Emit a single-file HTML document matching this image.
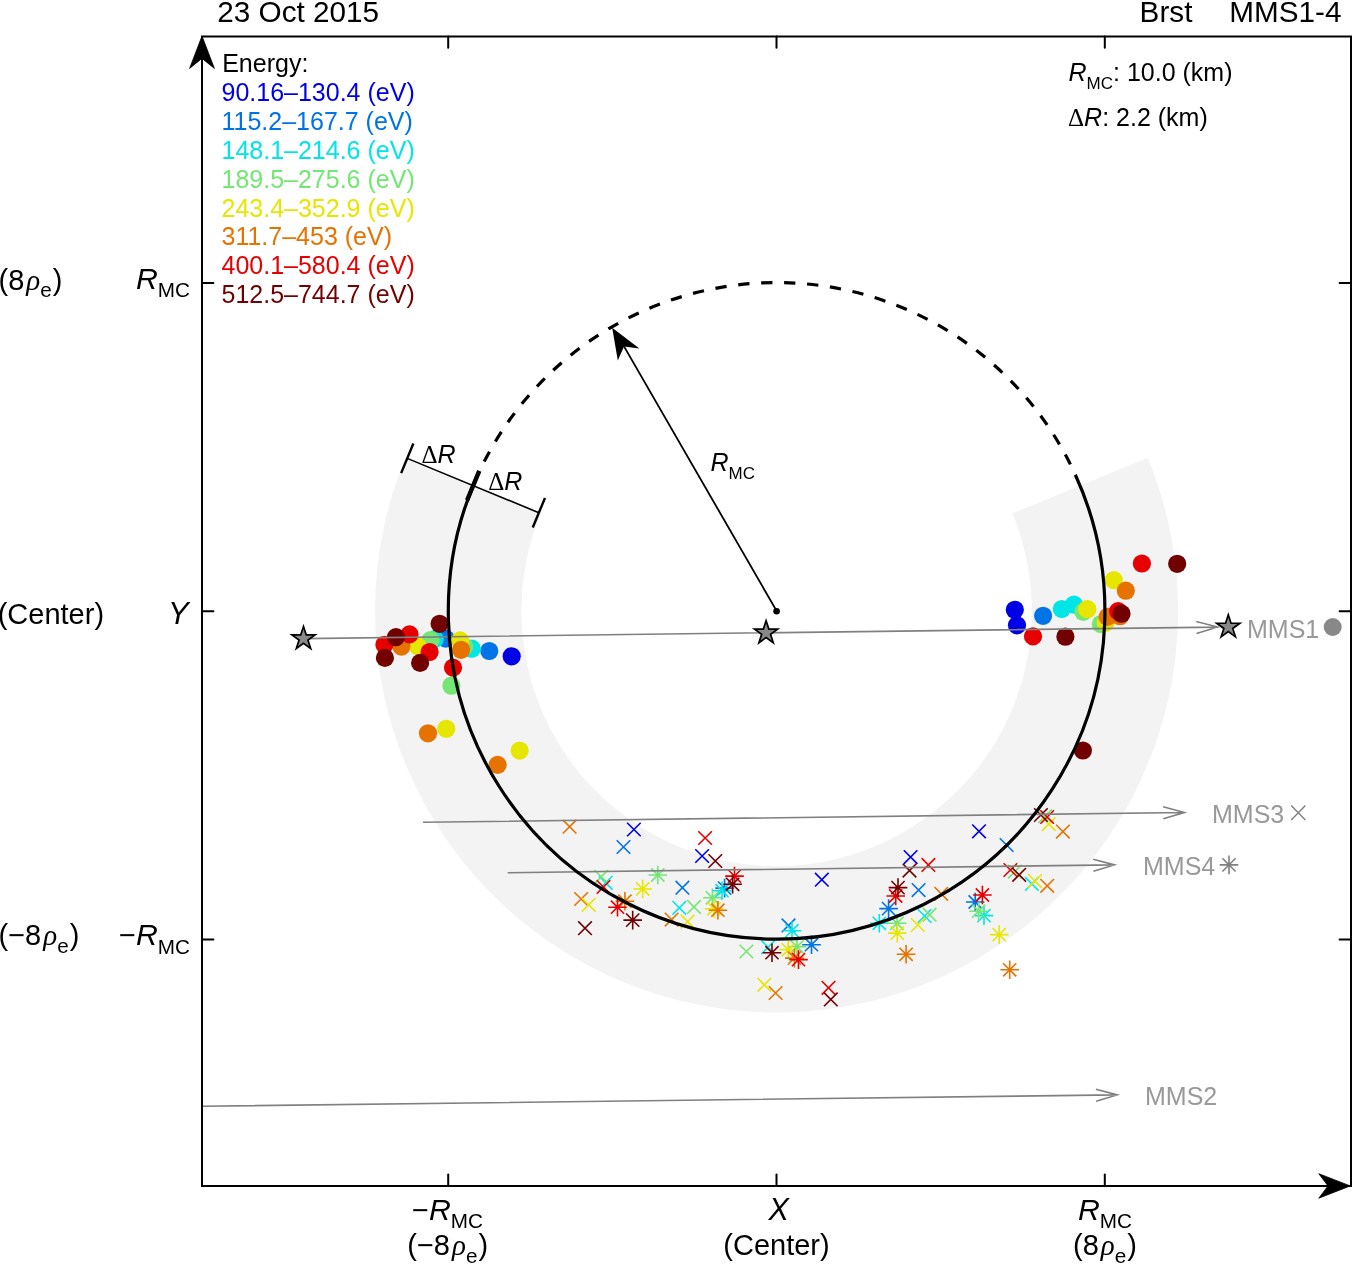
<!DOCTYPE html>
<html><head><meta charset="utf-8"><style>
html,body{margin:0;padding:0;background:#fff;}
svg{display:block;will-change:transform;}
text{font-family:"Liberation Sans",sans-serif;}
</style></head><body>
<svg width="1352" height="1264" viewBox="0 0 1352 1264">
<rect width="1352" height="1264" fill="#fff"/>
<path d="M1147.70,457.64 A401.5,401.5 0 1 1 405.50,457.64 L540.72,513.49 A255.2,255.2 0 1 0 1012.48,513.49 Z" fill="#f3f3f3"/>
<circle cx="511.7" cy="656.3" r="9.1" fill="#0000e6"/>
<circle cx="1014.8" cy="609.8" r="9.1" fill="#0000e6"/>
<circle cx="1017.0" cy="625.3" r="9.1" fill="#0000e6"/>
<path d="M627.1,822.7 L640.7,836.3 M627.1,836.3 L640.7,822.7" stroke="#0000e6" stroke-width="1.6" fill="none"/>
<path d="M695.3,849.2 L708.9,862.8 M695.3,862.8 L708.9,849.2" stroke="#0000e6" stroke-width="1.6" fill="none"/>
<path d="M815.0,872.9 L828.6,886.5 M815.0,886.5 L828.6,872.9" stroke="#0000e6" stroke-width="1.6" fill="none"/>
<path d="M903.8,850.3 L917.4,863.9 M903.8,863.9 L917.4,850.3" stroke="#0000e6" stroke-width="1.6" fill="none"/>
<path d="M972.2,824.5 L985.8,838.1 M972.2,838.1 L985.8,824.5" stroke="#0000e6" stroke-width="1.6" fill="none"/>
<circle cx="445.7" cy="638.6" r="9.1" fill="#0073e6"/>
<circle cx="489.3" cy="651.0" r="9.1" fill="#0073e6"/>
<circle cx="1043.1" cy="615.8" r="9.1" fill="#0073e6"/>
<path d="M616.7,840.2 L630.3,853.8 M616.7,853.8 L630.3,840.2" stroke="#0073e6" stroke-width="1.6" fill="none"/>
<path d="M675.6,880.9 L689.2,894.5 M675.6,894.5 L689.2,880.9" stroke="#0073e6" stroke-width="1.6" fill="none"/>
<path d="M781.7,918.6 L795.3,932.2 M781.7,932.2 L795.3,918.6" stroke="#0073e6" stroke-width="1.6" fill="none"/>
<path d="M911.8,883.3 L925.4,896.9 M911.8,896.9 L925.4,883.3" stroke="#0073e6" stroke-width="1.6" fill="none"/>
<path d="M999.8,838.2 L1013.4,851.8 M999.8,851.8 L1013.4,838.2" stroke="#0073e6" stroke-width="1.6" fill="none"/>
<path d="M715.3,888.1 L733.9,888.1 M724.6,878.8 L724.6,897.4 M718.0,881.5 L731.2,894.7 M718.0,894.7 L731.2,881.5" stroke="#0073e6" stroke-width="1.6" fill="none"/>
<path d="M802.2,944.7 L820.8,944.7 M811.5,935.4 L811.5,954.0 M804.9,938.1 L818.1,951.3 M804.9,951.3 L818.1,938.1" stroke="#0073e6" stroke-width="1.6" fill="none"/>
<path d="M879.3,908.6 L897.9,908.6 M888.6,899.3 L888.6,917.9 M882.0,902.0 L895.2,915.2 M882.0,915.2 L895.2,902.0" stroke="#0073e6" stroke-width="1.6" fill="none"/>
<path d="M965.9,902.0 L984.5,902.0 M975.2,892.7 L975.2,911.3 M968.6,895.4 L981.8,908.6 M968.6,908.6 L981.8,895.4" stroke="#0073e6" stroke-width="1.6" fill="none"/>
<circle cx="434.8" cy="639.1" r="9.1" fill="#00e6e6"/>
<circle cx="471.8" cy="648.7" r="9.1" fill="#00e6e6"/>
<circle cx="1061.8" cy="609.0" r="9.1" fill="#00e6e6"/>
<circle cx="1073.9" cy="604.6" r="9.1" fill="#00e6e6"/>
<path d="M598.9,876.0 L612.5,889.6 M598.9,889.6 L612.5,876.0" stroke="#00e6e6" stroke-width="1.6" fill="none"/>
<path d="M672.5,901.0 L686.1,914.6 M672.5,914.6 L686.1,901.0" stroke="#00e6e6" stroke-width="1.6" fill="none"/>
<path d="M761.3,940.4 L774.9,954.0 M761.3,954.0 L774.9,940.4" stroke="#00e6e6" stroke-width="1.6" fill="none"/>
<path d="M917.8,909.2 L931.4,922.8 M917.8,922.8 L931.4,909.2" stroke="#00e6e6" stroke-width="1.6" fill="none"/>
<path d="M1025.1,877.1 L1038.7,890.7 M1025.1,890.7 L1038.7,877.1" stroke="#00e6e6" stroke-width="1.6" fill="none"/>
<path d="M782.7,930.7 L801.3,930.7 M792.0,921.4 L792.0,940.0 M785.4,924.1 L798.6,937.3 M785.4,937.3 L798.6,924.1" stroke="#00e6e6" stroke-width="1.6" fill="none"/>
<path d="M870.0,923.3 L888.6,923.3 M879.3,914.0 L879.3,932.6 M872.7,916.7 L885.9,929.9 M872.7,929.9 L885.9,916.7" stroke="#00e6e6" stroke-width="1.6" fill="none"/>
<path d="M974.7,915.6 L993.3,915.6 M984.0,906.3 L984.0,924.9 M977.4,909.0 L990.6,922.2 M977.4,922.2 L990.6,909.0" stroke="#00e6e6" stroke-width="1.6" fill="none"/>
<circle cx="430.6" cy="640.0" r="9.1" fill="#73e673"/>
<circle cx="464.3" cy="646.8" r="9.1" fill="#73e673"/>
<circle cx="451.4" cy="685.7" r="9.1" fill="#73e673"/>
<circle cx="1083.3" cy="611.9" r="9.1" fill="#73e673"/>
<circle cx="1100.8" cy="624.0" r="9.1" fill="#73e673"/>
<path d="M594.4,870.0 L608.0,883.6 M594.4,883.6 L608.0,870.0" stroke="#73e673" stroke-width="1.6" fill="none"/>
<path d="M687.2,900.1 L700.8,913.7 M687.2,913.7 L700.8,900.1" stroke="#73e673" stroke-width="1.6" fill="none"/>
<path d="M739.6,944.7 L753.2,958.3 M739.6,958.3 L753.2,944.7" stroke="#73e673" stroke-width="1.6" fill="none"/>
<path d="M922.8,907.9 L936.4,921.5 M922.8,921.5 L936.4,907.9" stroke="#73e673" stroke-width="1.6" fill="none"/>
<path d="M1038.4,809.4 L1052.0,823.0 M1038.4,823.0 L1052.0,809.4" stroke="#73e673" stroke-width="1.6" fill="none"/>
<path d="M1008.0,864.8 L1021.6,878.4 M1008.0,878.4 L1021.6,864.8" stroke="#73e673" stroke-width="1.6" fill="none"/>
<path d="M648.5,875.0 L667.1,875.0 M657.8,865.7 L657.8,884.3 M651.2,868.4 L664.4,881.6 M651.2,881.6 L664.4,868.4" stroke="#73e673" stroke-width="1.6" fill="none"/>
<path d="M703.1,897.8 L721.7,897.8 M712.4,888.5 L712.4,907.1 M705.8,891.2 L719.0,904.4 M705.8,904.4 L719.0,891.2" stroke="#73e673" stroke-width="1.6" fill="none"/>
<path d="M787.7,946.8 L806.3,946.8 M797.0,937.5 L797.0,956.1 M790.4,940.2 L803.6,953.4 M790.4,953.4 L803.6,940.2" stroke="#73e673" stroke-width="1.6" fill="none"/>
<path d="M887.7,923.3 L906.3,923.3 M897.0,914.0 L897.0,932.6 M890.4,916.7 L903.6,929.9 M890.4,929.9 L903.6,916.7" stroke="#73e673" stroke-width="1.6" fill="none"/>
<path d="M969.3,911.2 L987.9,911.2 M978.6,901.9 L978.6,920.5 M972.0,904.6 L985.2,917.8 M972.0,917.8 L985.2,904.6" stroke="#73e673" stroke-width="1.6" fill="none"/>
<path d="M712.7,890.7 L731.3,890.7 M722.0,881.4 L722.0,900.0 M715.4,884.1 L728.6,897.3 M715.4,897.3 L728.6,884.1" stroke="#00e6e6" stroke-width="1.6" fill="none"/>
<circle cx="418.1" cy="646.6" r="9.1" fill="#e6e600"/>
<circle cx="460.1" cy="640.4" r="9.1" fill="#e6e600"/>
<circle cx="446.3" cy="728.8" r="9.1" fill="#e6e600"/>
<circle cx="519.6" cy="750.6" r="9.1" fill="#e6e600"/>
<circle cx="1087.3" cy="609.2" r="9.1" fill="#e6e600"/>
<circle cx="1105.6" cy="622.9" r="9.1" fill="#e6e600"/>
<circle cx="1113.8" cy="580.1" r="9.1" fill="#e6e600"/>
<path d="M680.8,914.8 L694.4,928.4 M680.8,928.4 L694.4,914.8" stroke="#e6e600" stroke-width="1.6" fill="none"/>
<path d="M757.5,978.0 L771.1,991.6 M757.5,991.6 L771.1,978.0" stroke="#e6e600" stroke-width="1.6" fill="none"/>
<path d="M911.0,918.2 L924.6,931.8 M911.0,931.8 L924.6,918.2" stroke="#e6e600" stroke-width="1.6" fill="none"/>
<path d="M1042.0,817.3 L1055.6,830.9 M1042.0,830.9 L1055.6,817.3" stroke="#e6e600" stroke-width="1.6" fill="none"/>
<path d="M1028.2,874.3 L1041.8,887.9 M1028.2,887.9 L1041.8,874.3" stroke="#e6e600" stroke-width="1.6" fill="none"/>
<path d="M633.4,889.0 L652.0,889.0 M642.7,879.7 L642.7,898.3 M636.1,882.4 L649.3,895.6 M636.1,895.6 L649.3,882.4" stroke="#e6e600" stroke-width="1.6" fill="none"/>
<path d="M704.7,908.8 L723.3,908.8 M714.0,899.5 L714.0,918.1 M707.4,902.2 L720.6,915.4 M707.4,915.4 L720.6,902.2" stroke="#e6e600" stroke-width="1.6" fill="none"/>
<path d="M779.0,949.8 L797.6,949.8 M788.3,940.5 L788.3,959.1 M781.7,943.2 L794.9,956.4 M781.7,956.4 L794.9,943.2" stroke="#e6e600" stroke-width="1.6" fill="none"/>
<path d="M888.0,933.1 L906.6,933.1 M897.3,923.8 L897.3,942.4 M890.7,926.5 L903.9,939.7 M890.7,939.7 L903.9,926.5" stroke="#e6e600" stroke-width="1.6" fill="none"/>
<path d="M989.9,934.6 L1008.5,934.6 M999.2,925.3 L999.2,943.9 M992.6,928.0 L1005.8,941.2 M992.6,941.2 L1005.8,928.0" stroke="#e6e600" stroke-width="1.6" fill="none"/>
<circle cx="401.4" cy="646.6" r="9.1" fill="#e67300"/>
<circle cx="461.1" cy="649.8" r="9.1" fill="#e67300"/>
<circle cx="428.0" cy="733.3" r="9.1" fill="#e67300"/>
<circle cx="497.6" cy="764.9" r="9.1" fill="#e67300"/>
<circle cx="1107.5" cy="616.9" r="9.1" fill="#e67300"/>
<circle cx="1120.0" cy="616.2" r="9.1" fill="#e67300"/>
<circle cx="1125.8" cy="590.7" r="9.1" fill="#e67300"/>
<path d="M562.8,819.9 L576.4,833.5 M562.8,833.5 L576.4,819.9" stroke="#e67300" stroke-width="1.6" fill="none"/>
<path d="M574.3,892.2 L587.9,905.8 M574.3,905.8 L587.9,892.2" stroke="#e67300" stroke-width="1.6" fill="none"/>
<path d="M664.8,912.8 L678.4,926.4 M664.8,926.4 L678.4,912.8" stroke="#e67300" stroke-width="1.6" fill="none"/>
<path d="M768.8,986.2 L782.4,999.8 M768.8,999.8 L782.4,986.2" stroke="#e67300" stroke-width="1.6" fill="none"/>
<path d="M934.4,887.0 L948.0,900.6 M934.4,900.6 L948.0,887.0" stroke="#e67300" stroke-width="1.6" fill="none"/>
<path d="M1056.1,824.8 L1069.7,838.4 M1056.1,838.4 L1069.7,824.8" stroke="#e67300" stroke-width="1.6" fill="none"/>
<path d="M1040.4,879.0 L1054.0,892.6 M1040.4,892.6 L1054.0,879.0" stroke="#e67300" stroke-width="1.6" fill="none"/>
<path d="M615.6,901.2 L634.2,901.2 M624.9,891.9 L624.9,910.5 M618.3,894.6 L631.5,907.8 M618.3,907.8 L631.5,894.6" stroke="#e67300" stroke-width="1.6" fill="none"/>
<path d="M708.6,910.2 L727.2,910.2 M717.9,900.9 L717.9,919.5 M711.3,903.6 L724.5,916.8 M711.3,916.8 L724.5,903.6" stroke="#e67300" stroke-width="1.6" fill="none"/>
<path d="M785.1,958.1 L803.7,958.1 M794.4,948.8 L794.4,967.4 M787.8,951.5 L801.0,964.7 M787.8,964.7 L801.0,951.5" stroke="#e67300" stroke-width="1.6" fill="none"/>
<path d="M896.8,954.3 L915.4,954.3 M906.1,945.0 L906.1,963.6 M899.5,947.7 L912.7,960.9 M899.5,960.9 L912.7,947.7" stroke="#e67300" stroke-width="1.6" fill="none"/>
<path d="M1000.4,969.8 L1019.0,969.8 M1009.7,960.5 L1009.7,979.1 M1003.1,963.2 L1016.3,976.4 M1003.1,976.4 L1016.3,963.2" stroke="#e67300" stroke-width="1.6" fill="none"/>
<path d="M581.9,898.0 L595.5,911.6 M581.9,911.6 L595.5,898.0" stroke="#e6e600" stroke-width="1.6" fill="none"/>
<circle cx="384.4" cy="644.8" r="9.1" fill="#e60000"/>
<circle cx="409.5" cy="634.4" r="9.1" fill="#e60000"/>
<circle cx="429.6" cy="652.0" r="9.1" fill="#e60000"/>
<circle cx="453.0" cy="667.6" r="9.1" fill="#e60000"/>
<circle cx="1033.0" cy="636.4" r="9.1" fill="#e60000"/>
<circle cx="1118.1" cy="611.2" r="9.1" fill="#e60000"/>
<circle cx="1141.9" cy="563.5" r="9.1" fill="#e60000"/>
<path d="M596.7,880.2 L610.3,893.8 M596.7,893.8 L610.3,880.2" stroke="#e60000" stroke-width="1.6" fill="none"/>
<path d="M698.3,831.2 L711.9,844.8 M698.3,844.8 L711.9,831.2" stroke="#e60000" stroke-width="1.6" fill="none"/>
<path d="M821.7,981.0 L835.3,994.6 M821.7,994.6 L835.3,981.0" stroke="#e60000" stroke-width="1.6" fill="none"/>
<path d="M921.6,858.1 L935.2,871.7 M921.6,871.7 L935.2,858.1" stroke="#e60000" stroke-width="1.6" fill="none"/>
<path d="M1040.4,810.2 L1054.0,823.8 M1040.4,823.8 L1054.0,810.2" stroke="#e60000" stroke-width="1.6" fill="none"/>
<path d="M1003.6,863.2 L1017.2,876.8 M1003.6,876.8 L1017.2,863.2" stroke="#e60000" stroke-width="1.6" fill="none"/>
<path d="M608.2,907.2 L626.8,907.2 M617.5,897.9 L617.5,916.5 M610.9,900.6 L624.1,913.8 M610.9,913.8 L624.1,900.6" stroke="#e60000" stroke-width="1.6" fill="none"/>
<path d="M725.2,876.1 L743.8,876.1 M734.5,866.8 L734.5,885.4 M727.9,869.5 L741.1,882.7 M727.9,882.7 L741.1,869.5" stroke="#e60000" stroke-width="1.6" fill="none"/>
<path d="M789.2,959.6 L807.8,959.6 M798.5,950.3 L798.5,968.9 M791.9,953.0 L805.1,966.2 M791.9,966.2 L805.1,953.0" stroke="#e60000" stroke-width="1.6" fill="none"/>
<path d="M886.4,896.0 L905.0,896.0 M895.7,886.7 L895.7,905.3 M889.1,889.4 L902.3,902.6 M889.1,902.6 L902.3,889.4" stroke="#e60000" stroke-width="1.6" fill="none"/>
<path d="M973.1,895.0 L991.7,895.0 M982.4,885.7 L982.4,904.3 M975.8,888.4 L989.0,901.6 M975.8,901.6 L989.0,888.4" stroke="#e60000" stroke-width="1.6" fill="none"/>
<circle cx="396.0" cy="637.1" r="9.1" fill="#730000"/>
<circle cx="384.9" cy="657.9" r="9.1" fill="#730000"/>
<circle cx="439.6" cy="623.8" r="9.1" fill="#730000"/>
<circle cx="420.1" cy="662.9" r="9.1" fill="#730000"/>
<circle cx="1065.4" cy="636.7" r="9.1" fill="#730000"/>
<circle cx="1121.5" cy="613.7" r="9.1" fill="#730000"/>
<circle cx="1177.2" cy="563.8" r="9.1" fill="#730000"/>
<circle cx="1082.9" cy="750.5" r="9.1" fill="#730000"/>
<path d="M578.2,921.4 L591.8,935.0 M578.2,935.0 L591.8,921.4" stroke="#730000" stroke-width="1.6" fill="none"/>
<path d="M708.5,854.2 L722.1,867.8 M708.5,867.8 L722.1,854.2" stroke="#730000" stroke-width="1.6" fill="none"/>
<path d="M824.0,992.6 L837.6,1006.2 M824.0,1006.2 L837.6,992.6" stroke="#730000" stroke-width="1.6" fill="none"/>
<path d="M902.7,863.8 L916.3,877.4 M902.7,877.4 L916.3,863.8" stroke="#730000" stroke-width="1.6" fill="none"/>
<path d="M1034.1,808.2 L1047.7,821.8 M1034.1,821.8 L1047.7,808.2" stroke="#730000" stroke-width="1.6" fill="none"/>
<path d="M1012.4,868.0 L1026.0,881.6 M1012.4,881.6 L1026.0,868.0" stroke="#730000" stroke-width="1.6" fill="none"/>
<path d="M623.4,920.1 L642.0,920.1 M632.7,910.8 L632.7,929.4 M626.1,913.5 L639.3,926.7 M626.1,926.7 L639.3,913.5" stroke="#730000" stroke-width="1.6" fill="none"/>
<path d="M723.3,884.3 L741.9,884.3 M732.6,875.0 L732.6,893.6 M726.0,877.7 L739.2,890.9 M726.0,890.9 L739.2,877.7" stroke="#730000" stroke-width="1.6" fill="none"/>
<path d="M762.7,952.7 L781.3,952.7 M772.0,943.4 L772.0,962.0 M765.4,946.1 L778.6,959.3 M765.4,959.3 L778.6,946.1" stroke="#730000" stroke-width="1.6" fill="none"/>
<path d="M888.7,887.6 L907.3,887.6 M898.0,878.3 L898.0,896.9 M891.4,881.0 L904.6,894.2 M891.4,894.2 L904.6,881.0" stroke="#730000" stroke-width="1.6" fill="none"/>
<path d="M303.5,638.6 L1217.6,627.1 M1196.5,633.4 L1217.6,627.1 L1196.3,621.4" fill="none" stroke="#808080" stroke-width="1.6" stroke-linejoin="miter"/>
<path d="M423.1,822.3 L1184.4,812.5 M1163.3,818.8 L1184.4,812.5 L1163.1,806.8" fill="none" stroke="#808080" stroke-width="1.6" stroke-linejoin="miter"/>
<path d="M507.7,872.7 L1114.5,864.9 M1093.4,871.2 L1114.5,864.9 L1093.2,859.2" fill="none" stroke="#808080" stroke-width="1.6" stroke-linejoin="miter"/>
<path d="M202.0,1106.3 L1117.2,1094.9 M1096.1,1101.2 L1117.2,1094.9 L1095.9,1089.2" fill="none" stroke="#808080" stroke-width="1.6" stroke-linejoin="miter"/>
<path d="M1075.34,474.76 A328.3,328.3 0 1 1 479.18,471.89" fill="none" stroke="#000" stroke-width="3.2"/>
<path d="M484.21,461.60 A328.3,328.3 0 0 1 1070.41,464.41" fill="none" stroke="#000" stroke-width="3.2" stroke-dasharray="11.29 11.72"/>
<line x1="407.26" y1="458.37" x2="538.88" y2="512.72" stroke="#000" stroke-width="1.6"/>
<line x1="401.15" y1="473.15" x2="413.37" y2="443.58" stroke="#000" stroke-width="2.4"/>
<line x1="532.77" y1="527.51" x2="544.98" y2="497.93" stroke="#000" stroke-width="2.4"/>
<line x1="467.05" y1="500.37" x2="479.27" y2="470.79" stroke="#000" stroke-width="4.4"/>
<line x1="776.6" y1="610.9" x2="624" y2="346.4" stroke="#000" stroke-width="1.8"/>
<path d="M612.2,327.7 L617.8,360.6 L624,346.4 L639.4,348.6 Z" fill="#000"/>
<circle cx="776.6" cy="611.3" r="3.3" fill="#000"/>
<polygon points="303.50,626.40 306.24,634.83 315.10,634.83 307.93,640.04 310.67,648.47 303.50,643.26 296.33,648.47 299.07,640.04 291.90,634.83 300.76,634.83" fill="#888888" stroke="#000" stroke-width="1.7" stroke-linejoin="miter" stroke-miterlimit="10"/>
<polygon points="766.10,620.70 768.84,629.13 777.70,629.13 770.53,634.34 773.27,642.77 766.10,637.56 758.93,642.77 761.67,634.34 754.50,629.13 763.36,629.13" fill="#888888" stroke="#000" stroke-width="1.7" stroke-linejoin="miter" stroke-miterlimit="10"/>
<polygon points="1228.30,614.80 1231.04,623.23 1239.90,623.23 1232.73,628.44 1235.47,636.87 1228.30,631.66 1221.13,636.87 1223.87,628.44 1216.70,623.23 1225.56,623.23" fill="#888888" stroke="#000" stroke-width="1.7" stroke-linejoin="miter" stroke-miterlimit="10"/>
<circle cx="1332.7" cy="627" r="9" fill="#888888"/>
<path d="M202.0,1185.9 L1351.0,1185.9 M202.0,1185.9 L202.0,36.4 M202.0,36.4 L1351.0,36.4 M1351.0,36.4 L1351.0,1185.9" fill="none" stroke="#000" stroke-width="2" stroke-linecap="square"/>
<path d="M202,36 L189.6,68.4 L202,58.4 L214.4,68.4 Z" fill="#000" stroke="#000" stroke-width="0.8" stroke-linejoin="round"/>
<path d="M1350.3,1185.9 L1318.8,1173.7 L1328,1185.9 L1318.8,1198.2 Z" fill="#000" stroke="#000" stroke-width="0.8" stroke-linejoin="round"/>
<line x1="448.2" y1="1185.9" x2="448.2" y2="1174.5" stroke="#000" stroke-width="2" stroke-linecap="round"/>
<line x1="448.2" y1="36.4" x2="448.2" y2="47.8" stroke="#000" stroke-width="2" stroke-linecap="round"/>
<line x1="776.5" y1="1185.9" x2="776.5" y2="1174.5" stroke="#000" stroke-width="2" stroke-linecap="round"/>
<line x1="776.5" y1="36.4" x2="776.5" y2="47.8" stroke="#000" stroke-width="2" stroke-linecap="round"/>
<line x1="1104.8" y1="1185.9" x2="1104.8" y2="1174.5" stroke="#000" stroke-width="2" stroke-linecap="round"/>
<line x1="1104.8" y1="36.4" x2="1104.8" y2="47.8" stroke="#000" stroke-width="2" stroke-linecap="round"/>
<line x1="202.0" y1="283.0" x2="213.4" y2="283.0" stroke="#000" stroke-width="2" stroke-linecap="round"/>
<line x1="1351.0" y1="283.0" x2="1339.6" y2="283.0" stroke="#000" stroke-width="2" stroke-linecap="round"/>
<line x1="202.0" y1="611.3" x2="213.4" y2="611.3" stroke="#000" stroke-width="2" stroke-linecap="round"/>
<line x1="1351.0" y1="611.3" x2="1339.6" y2="611.3" stroke="#000" stroke-width="2" stroke-linecap="round"/>
<line x1="202.0" y1="939.4" x2="213.4" y2="939.4" stroke="#000" stroke-width="2" stroke-linecap="round"/>
<line x1="1351.0" y1="939.4" x2="1339.6" y2="939.4" stroke="#000" stroke-width="2" stroke-linecap="round"/>
<text x="217.3" y="22" font-size="29.7" text-anchor="start" fill="#000" >23 Oct 2015</text>
<text x="1139.6" y="22" font-size="29.7" text-anchor="start" fill="#000" >Brst</text>
<text x="1229.3" y="22" font-size="29.7" text-anchor="start" fill="#000" >MMS1-4</text>
<text x="222.2" y="72.2" font-size="25" text-anchor="start" fill="#000" >Energy:</text>
<text x="221.5" y="100.9" font-size="25" text-anchor="start" fill="#0000e6" >90.16&#8211;130.4 (eV)</text>
<text x="221.5" y="129.8" font-size="25" text-anchor="start" fill="#0073e6" >115.2&#8211;167.7 (eV)</text>
<text x="221.5" y="158.7" font-size="25" text-anchor="start" fill="#00e6e6" >148.1&#8211;214.6 (eV)</text>
<text x="221.5" y="187.6" font-size="25" text-anchor="start" fill="#73e673" >189.5&#8211;275.6 (eV)</text>
<text x="221.5" y="216.5" font-size="25" text-anchor="start" fill="#e6e600" >243.4&#8211;352.9 (eV)</text>
<text x="221.5" y="245.4" font-size="25" text-anchor="start" fill="#e67300" >311.7&#8211;453 (eV)</text>
<text x="221.5" y="274.29999999999995" font-size="25" text-anchor="start" fill="#e60000" >400.1&#8211;580.4 (eV)</text>
<text x="221.5" y="303.2" font-size="25" text-anchor="start" fill="#730000" >512.5&#8211;744.7 (eV)</text>
<text x="1068.5" y="81" font-size="25"><tspan font-style="italic">R</tspan><tspan font-size="17" dy="8.2">MC</tspan><tspan dy="-8.2">: 10.0 (km)</tspan></text>
<text x="1068" y="125.6" font-size="25"><tspan font-family="Liberation Serif, serif">&#916;</tspan><tspan font-style="italic">R</tspan>: 2.2 (km)</text>
<text x="190" y="288.5" font-size="29" text-anchor="end"><tspan font-style="italic" font-size="30.3">R</tspan><tspan font-size="20.7" dy="8.7">MC</tspan></text>
<text x="190" y="945" font-size="29" text-anchor="end">&#8722;<tspan font-style="italic" font-size="30.3">R</tspan><tspan font-size="20.7" dy="8.7">MC</tspan></text>
<text x="188.8" y="624" font-size="31" text-anchor="end" font-style="italic">Y</text>
<text x="-1.5" y="289.5" font-size="29" text-anchor="start">(8<tspan dx="2" font-style="italic" font-family="Liberation Serif, serif">&#961;</tspan><tspan font-size="20.7" dy="7.5">e</tspan><tspan dx="1" dy="-7.5">)</tspan></text>
<text x="-2.3" y="624" font-size="29">(Center)</text>
<text x="-1.5" y="945" font-size="29" text-anchor="start">(&#8722;8<tspan dx="2" font-style="italic" font-family="Liberation Serif, serif">&#961;</tspan><tspan font-size="20.7" dy="7.5">e</tspan><tspan dx="1" dy="-7.5">)</tspan></text>
<text x="447.5" y="1219.5" font-size="29" text-anchor="middle">&#8722;<tspan font-style="italic" font-size="30.3">R</tspan><tspan font-size="20.7" dy="8.7">MC</tspan></text>
<text x="447.7" y="1255" font-size="29" text-anchor="middle">(&#8722;8<tspan dx="2" font-style="italic" font-family="Liberation Serif, serif">&#961;</tspan><tspan font-size="20.7" dy="7.5">e</tspan><tspan dx="1" dy="-7.5">)</tspan></text>
<text x="778.6" y="1219.9" font-size="30.5" text-anchor="middle" font-style="italic">X</text>
<text x="776.5" y="1255" font-size="29" text-anchor="middle">(Center)</text>
<text x="1105" y="1219.5" font-size="29" text-anchor="middle"><tspan font-style="italic" font-size="30.3">R</tspan><tspan font-size="20.7" dy="8.7">MC</tspan></text>
<text x="1105" y="1255" font-size="29" text-anchor="middle">(8<tspan dx="2" font-style="italic" font-family="Liberation Serif, serif">&#961;</tspan><tspan font-size="20.7" dy="7.5">e</tspan><tspan dx="1" dy="-7.5">)</tspan></text>
<text x="421.5" y="462.6" font-size="25"><tspan font-family="Liberation Serif, serif">&#916;</tspan><tspan font-style="italic">R</tspan></text>
<text x="488.2" y="490" font-size="25"><tspan font-family="Liberation Serif, serif">&#916;</tspan><tspan font-style="italic">R</tspan></text>
<text x="710.5" y="470.8" font-size="25"><tspan font-style="italic">R</tspan><tspan font-size="17" dy="8.2">MC</tspan></text>
<text x="1247" y="637.5" font-size="25" text-anchor="start" fill="#999999" >MMS1</text>
<text x="1212" y="822.5" font-size="25" text-anchor="start" fill="#999999" >MMS3</text>
<text x="1143" y="874.6" font-size="25" text-anchor="start" fill="#999999" >MMS4</text>
<text x="1145" y="1105.1" font-size="25" text-anchor="start" fill="#999999" >MMS2</text>
<path d="M1291.2,805.5 L1305.4,820.1 M1305.4,805.5 L1291.2,820.1" stroke="#808080" stroke-width="1.4"/>
<path d="M1219.7,864.9 L1238.3,864.9 M1229.0,855.6 L1229.0,874.2 M1222.4,858.3 L1235.6,871.5 M1222.4,871.5 L1235.6,858.3" stroke="#808080" stroke-width="1.6" fill="none"/>
</svg>
</body></html>
